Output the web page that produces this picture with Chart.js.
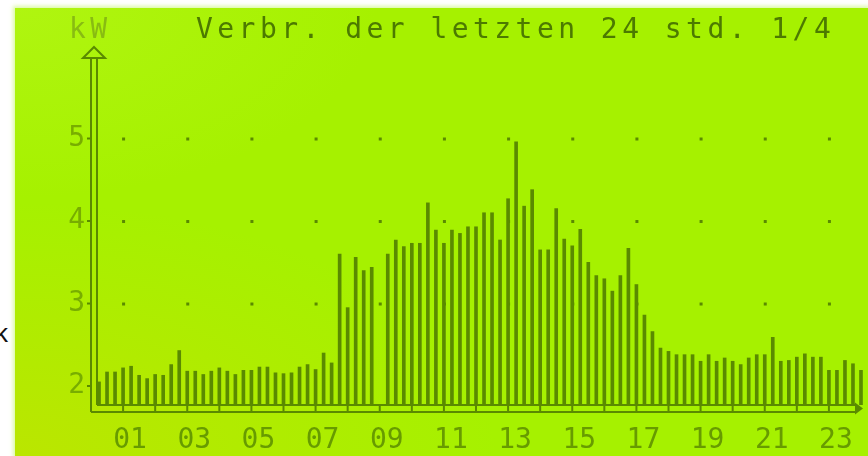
<!DOCTYPE html>
<html>
<head>
<meta charset="utf-8">
<script src="https://cdn.jsdelivr.net/npm/chart.js@4.4.0/dist/chart.umd.min.js"></script>
<style>
  html, body { margin: 0; padding: 0; background: #fff; }
  #frame { position: relative; width: 868px; height: 456px; overflow: hidden; background: #fff; }
  #lcd {
    position: absolute; left: 15px; top: 8px; right: 0; bottom: 0;
    background:
      radial-gradient(ellipse at 0% 100%, rgba(190, 228, 0, 0.85) 0%, rgba(190, 228, 0, 0) 40%),
      radial-gradient(ellipse at 0% 0%, rgba(178, 246, 20, 0.8) 0%, rgba(178, 246, 20, 0) 30%),
      #a6f100;
    box-shadow: 0 0 4px 2px rgba(210, 248, 140, 0.8);
  }
  canvas { position: absolute; left: 0; top: 0; }
  .lcdtext {
    position: absolute; font-family: "DejaVu Sans Mono", monospace;
    font-size: 28px; line-height: 28px; letter-spacing: 4.45px; white-space: pre;
  }
  #title { left: 196px; top: 15px; color: #4c7a00; }
  #unit { left: 69px; top: 15px; color: #88bc12; }
  #edge { position: absolute; left: -5px; top: 318px; font-family: "Liberation Sans", sans-serif; font-size: 26px; color: #111; }
</style>
</head>
<body>
<div id="frame">
  <div id="lcd"></div>
  <div id="edge">k</div>
  <canvas id="chart" width="868" height="456"></canvas>
  <div id="unit" class="lcdtext">kW</div>
  <div id="title" class="lcdtext">Verbr. der letzten 24 std. 1/4</div>
</div>
<script>
const hourLabels = ["01", "03", "05", "07", "09", "11", "13", "15", "17", "19", "21", "23"];
const yTicks = [2, 3, 4, 5];
const dotLevels = [3, 4, 5];

// kW per quarter hour, four per hour (hour 1 .. hour 24)
const quarterKw = [
  2.05, 2.17, 2.17, 2.22,
  2.24, 2.13, 2.09, 2.14,
  2.13, 2.26, 2.43, 2.18,
  2.18, 2.14, 2.18, 2.22,
  2.18, 2.14, 2.19, 2.19,
  2.23, 2.23, 2.16, 2.15,
  2.16, 2.23, 2.26, 2.20,
  2.40, 2.28, 3.60, 2.95,
  3.56, 3.40, 3.44, null,
  3.60, 3.77, 3.69, 3.73,
  3.73, 4.22, 3.89, 3.73,
  3.89, 3.85, 3.93, 3.93,
  4.10, 4.10, 3.77, 4.27,
  4.96, 4.18, 4.38, 3.65,
  3.65, 4.15, 3.78, 3.70,
  3.90, 3.50, 3.34, 3.30,
  3.15, 3.34, 3.67, 3.23,
  2.86, 2.66, 2.46, 2.42,
  2.38, 2.38, 2.38, 2.30,
  2.38, 2.30, 2.34, 2.30,
  2.26, 2.34, 2.38, 2.38,
  2.59, 2.30, 2.31, 2.35,
  2.39, 2.35, 2.35, 2.19,
  2.19, 2.31, 2.27, 2.19
];

const yMin = 1.77;
const ink = "#5a8a00";
const lcdFont = "'DejaVu Sans Mono', monospace";

const lcdFrame = {
  id: "lcdFrame",
  beforeDatasetsDraw(chart) {
    const { ctx, scales: { x, y } } = chart;
    ctx.save();
    ctx.fillStyle = ink;
    hourLabels.forEach((l) => {
      const px = x.getPixelForValue(Number(l));
      dotLevels.forEach((v) => ctx.fillRect(px - 1, y.getPixelForValue(v) - 1, 3, 3));
    });
    ctx.restore();
  },
  afterDatasetsDraw(chart) {
    const { ctx, chartArea: a, scales: { x, y } } = chart;
    const gap = 7;
    const line = (x1, y1, x2, y2) => {
      ctx.beginPath();
      ctx.moveTo(x1, y1);
      ctx.lineTo(x2, y2);
      ctx.stroke();
    };
    ctx.save();
    ctx.strokeStyle = ink;
    ctx.fillStyle = ink;
    ctx.lineWidth = 2;
    // double y axis
    line(a.left, a.top + 2, a.left, a.bottom + gap);
    line(a.left + gap - 1, a.top + 2, a.left + gap - 1, a.bottom);
    // double x axis
    line(a.left, a.bottom + gap, a.right - 4, a.bottom + gap);
    line(a.left + gap - 1, a.bottom, a.right - 4, a.bottom);
    // hour rungs
    for (let h = 1; h < 24; h++) {
      const px = x.getPixelForValue(h);
      line(px, a.bottom, px, a.bottom + gap);
    }
    // y ticks
    yTicks.forEach((v) => {
      const py = y.getPixelForValue(v);
      line(a.left - 4, py, a.left, py);
    });
    // top arrow (hollow)
    const cx = a.left + 3;
    ctx.beginPath();
    ctx.moveTo(cx, a.top - 9);
    ctx.lineTo(cx + 11, a.top + 2);
    ctx.lineTo(cx - 11, a.top + 2);
    ctx.closePath();
    ctx.stroke();
    // right arrow
    const cy = a.bottom + gap / 2;
    ctx.beginPath();
    ctx.moveTo(a.right + 2, cy);
    ctx.lineTo(a.right - 6, cy - 6);
    ctx.lineTo(a.right - 6, cy + 6);
    ctx.closePath();
    ctx.fill();
    ctx.restore();
  }
};

new Chart(document.getElementById("chart").getContext("2d"), {
  type: "bar",
  data: {
    datasets: [{
      data: quarterKw.map((v, i) => ({ x: (i + 1) / 4, y: v })),
      backgroundColor: ink,
      barThickness: 3,
      base: yMin,
      clip: { left: 5, top: 5, right: 5, bottom: 0 }
    }]
  },
  options: {
    responsive: false,
    animation: false,
    layout: { padding: { left: 0, right: 7, top: 56, bottom: 0 } },
    plugins: { legend: { display: false }, tooltip: { enabled: false } },
    scales: {
      x: {
        type: "linear",
        offset: false,
        min: 0,
        max: 24,
        grid: { display: false, drawTicks: false },
        border: { display: false },
        afterBuildTicks: (scale) => { scale.ticks = hourLabels.map((l) => ({ value: Number(l) })); },
        afterFit: (scale) => { scale.height = 51; },
        ticks: {
          autoSkip: false,
          maxRotation: 0,
          labelOffset: 7,
          padding: 19,
          color: "#679b00",
          font: { family: lcdFont, size: 28 },
          callback: (v) => hourLabels.find((l) => Number(l) === v)
        }
      },
      y: {
        min: yMin,
        max: 6.0,
        grid: { display: false, drawTicks: false },
        border: { display: false },
        afterBuildTicks: (scale) => { scale.ticks = yTicks.map((v) => ({ value: v })); },
        afterFit: (scale) => { scale.width = 91; },
        ticks: {
          padding: 6,
          color: "#78ad00",
          font: { family: lcdFont, size: 28 },
          callback: (v) => String(v)
        }
      }
    }
  },
  plugins: [lcdFrame]
});
</script>
</body>
</html>
